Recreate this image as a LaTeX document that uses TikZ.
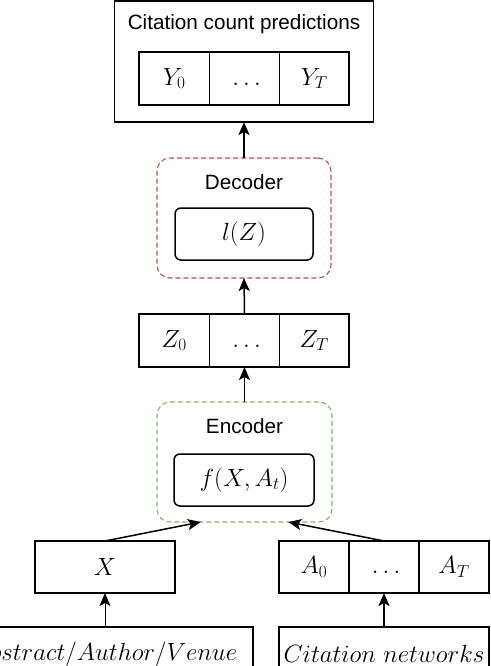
\documentclass[tikz,border=0pt]{standalone}
\usepackage{fontspec}
\newfontfamily\labfont{Liberation Sans}
\usetikzlibrary{arrows.meta,calc}
\begin{document}
\begin{tikzpicture}[x=1pt,y=-1pt,
  box/.style={draw,line width=1.5pt,inner sep=0pt,outer sep=0pt,font=\fontsize{24.5}{28}\selectfont},
  rbox/.style={box,rounded corners=6pt},
  grp/.style={draw,line width=1.1pt,rounded corners=13pt,dash pattern=on 5pt off 3pt,inner sep=0pt,outer sep=0pt},
  lab/.style={font=\labfont\fontsize{20.7}{24}\selectfont,inner sep=0pt},
  arr/.style={-{Stealth[length=13pt,width=11pt,inset=3pt]},line width=1.5pt},
  thinarr/.style={arr,line width=1pt}]
\useasboundingbox (0,0) rectangle (490,666);
\clip (0,0) rectangle (490,666);
\definecolor{decred}{HTML}{B85450}
\definecolor{encgreen}{HTML}{82B366}
% top output box
\node[box,minimum width=259pt,minimum height=121pt] (pred) at (244,61.5) {};
\node[lab] (predlab) at (244,24.5) {Citation count predictions};
\node[box,minimum width=70.5pt,minimum height=53pt] (y0) at (174.25,78.5) {$Y_0$};
\node[box,minimum width=70pt,minimum height=53pt] (y1) at (244.5,78.5) {$\vphantom{Y_0}\ldots$};
\node[box,minimum width=69.5pt,minimum height=53pt] (yT) at (314.25,78.5) {$Y_T$};
% decoder
\node[grp,draw=decred,minimum width=174pt,minimum height=120pt] (dec) at (244,218) {};
\node[lab] (declab) at (244,182) {Decoder};
\node[rbox,minimum width=138pt,minimum height=52pt] (l) at (244,234) {$l(Z)$};
% Z row
\node[box,minimum width=70.5pt,minimum height=53pt] (z0) at (174.25,340.5) {$Z_0$};
\node[box,minimum width=70pt,minimum height=53pt] (z1) at (244.5,340.5) {$\vphantom{Z_0}\ldots$};
\node[box,minimum width=69.5pt,minimum height=53pt] (zT) at (314.25,340.5) {$Z_T$};
% encoder
\node[grp,draw=encgreen,minimum width=175pt,minimum height=120pt] (enc) at (244.5,462) {};
\node[lab] (enclab) at (244.5,426) {Encoder};
\node[rbox,minimum width=140pt,minimum height=52pt] (f) at (244,480) {$f(X,A_t)$};
% inputs
\node[box,minimum width=140pt,minimum height=52pt] (x) at (105,567) {$X$};
\node[box,minimum width=70pt,minimum height=52pt] (a0) at (314,567) {$A_0$};
\node[box,minimum width=70pt,minimum height=52pt] (a1) at (384,567) {$\vphantom{A_0}\ldots$};
\node[box,minimum width=70pt,minimum height=52pt] (aT) at (454,567) {$A_T$};
\node[box,minimum width=296pt,minimum height=54pt] (meta) at (105,654) {$Abstract/Author/Venue$};
\node[box,minimum width=210pt,minimum height=54pt] (cit) at (384,654) {$Citation\ networks$};
% connectors
\draw[thinarr] (meta.north) -- (x.south);
\draw[arr] (cit.north) -- (a1.south);
\draw[arr] (x.north) -- ($(enc.south west)!0.25!(enc.south east)$);
\draw[arr] (a1.north) -- ($(enc.south west)!0.75!(enc.south east)$);
\draw[arr] (enc.north) -- (z1.south);
\draw[arr] (z1.north) -- (dec.south);
\draw[arr] (dec.north) -- (pred.south);
\end{tikzpicture}
\end{document}
